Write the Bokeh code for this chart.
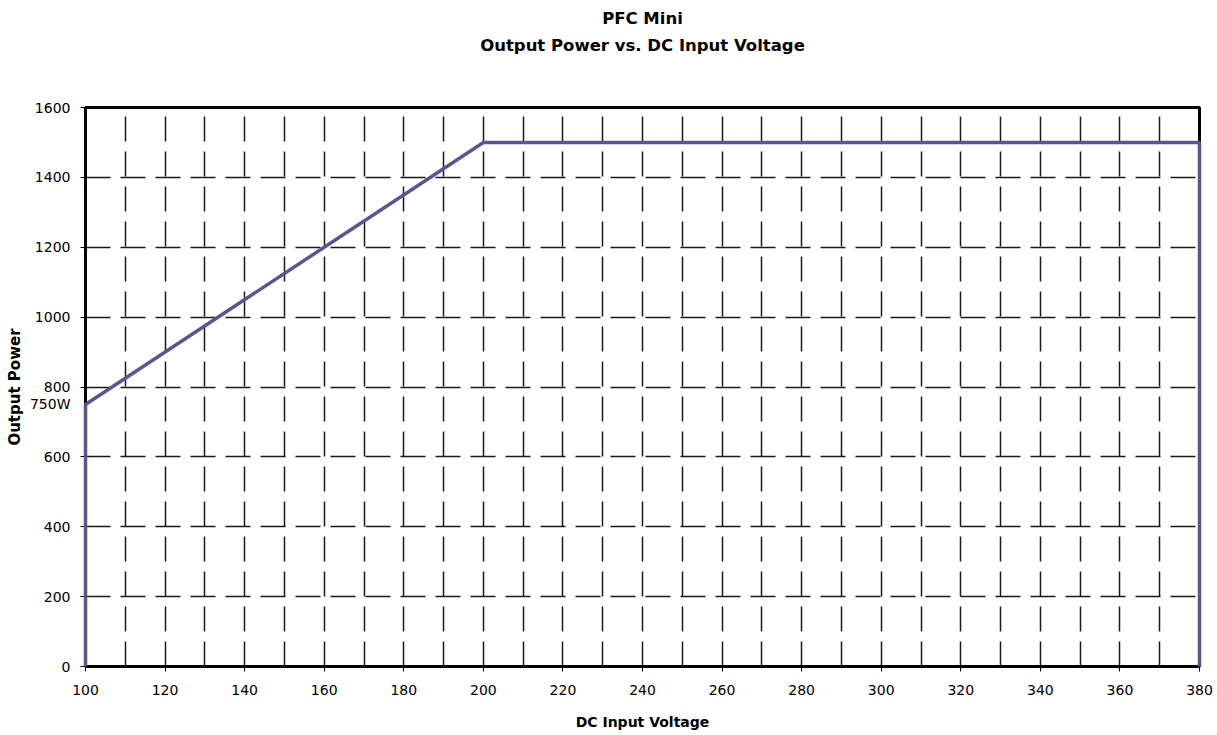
from bokeh.plotting import figure
from bokeh.models import FixedTicker, Title, Range1d, LinearAxis
from bokeh.embed import file_html
from bokeh.resources import INLINE

# Data
voltage = [100, 100, 200, 380, 380]
power = [0, 750, 1500, 1500, 0]
x_ticks = list(range(100, 381, 20))
y_ticks = list(range(0, 1601, 200))
x_grid = list(range(110, 380, 10))
y_grid = list(range(200, 1401, 200))
annot_text = "750W"
annot_y = 750

TICK_FONT = "DejaVu Sans"
BOLD_FONT = "DejaVu Sans"

p = figure(width=1215, height=733, output_backend="svg", toolbar_location=None,
           x_range=Range1d(100, 380), y_range=Range1d(0, 1600),
           min_border_left=85, min_border_right=16, min_border_top=0, min_border_bottom=67)

# titles (closest to the plot first); an empty spacer keeps the gap above the frame
p.add_layout(Title(text=" ", align="center", text_font=BOLD_FONT,
                   text_font_size="16.5px", standoff=32), "above")
p.add_layout(Title(text="Output Power vs. DC Input Voltage", align="center",
                   text_font=BOLD_FONT, text_font_size="16.5px", text_font_style="bold",
                   standoff=0, text_color="#000000"), "above")
p.add_layout(Title(text="PFC Mini", align="center",
                   text_font=BOLD_FONT, text_font_size="16.5px", text_font_style="bold",
                   standoff=12, text_color="#000000"), "above")

line = p.line(voltage, power, line_width=3.5, line_color="#5a5590")
line.level = "overlay"

# x axis
xa = p.xaxis[0]
xa.ticker = FixedTicker(ticks=x_ticks)
xa.axis_line_width = 3
xa.axis_line_color = "black"
xa.major_tick_line_color = "black"
xa.major_tick_in = 0
xa.major_tick_out = 5
xa.minor_tick_line_color = None
xa.major_label_text_font = TICK_FONT
xa.major_label_text_font_size = "14px"
xa.major_label_text_color = "#000000"
xa.major_label_standoff = 13
xa.axis_label = "DC Input Voltage"
xa.axis_label_text_font = BOLD_FONT
xa.axis_label_text_font_size = "14px"
xa.axis_label_text_font_style = "bold"
xa.axis_label_text_color = "#000000"
xa.axis_label_standoff = 16

# inner y axis: thick line and tick marks only
ya = p.yaxis[0]
ya.ticker = FixedTicker(ticks=y_ticks)
ya.axis_line_width = 3
ya.axis_line_color = "black"
ya.major_tick_line_color = "black"
ya.major_tick_in = 0
ya.major_tick_out = 5
ya.minor_tick_line_color = None
ya.major_label_text_font_size = "0px"
ya.major_label_standoff = 0
ya.major_label_overrides = {t: "" for t in y_ticks}

# outer y axis: tick labels (incl. 750W marker) and axis title
label_ticks = y_ticks + [annot_y]
yb = LinearAxis(ticker=FixedTicker(ticks=label_ticks))
yb.axis_line_color = None
yb.major_tick_line_color = None
yb.minor_tick_line_color = None
yb.major_tick_in = 0
yb.major_tick_out = 0
yb.major_label_text_font = TICK_FONT
yb.major_label_text_font_size = "14px"
yb.major_label_text_color = "#000000"
yb.major_label_standoff = 10
yb.major_label_overrides = {annot_y: annot_text}
yb.axis_label = "Output Power"
yb.axis_label_text_font = BOLD_FONT
yb.axis_label_text_font_size = "15px"
yb.axis_label_text_font_style = "bold"
yb.axis_label_text_color = "#000000"
yb.axis_label_standoff = 3
p.add_layout(yb, "left")

p.xgrid.ticker = FixedTicker(ticks=x_grid)
p.ygrid.ticker = FixedTicker(ticks=y_grid)
for g in (p.xgrid[0], p.ygrid[0]):
    g.grid_line_color = "#1a1a1a"
    g.grid_line_width = 1.5
    g.grid_line_dash = "25 10"

p.outline_line_color = "black"
p.outline_line_width = 3
p.outline_line_alpha = 1

open("out.html", "w").write(file_html(p, INLINE))
